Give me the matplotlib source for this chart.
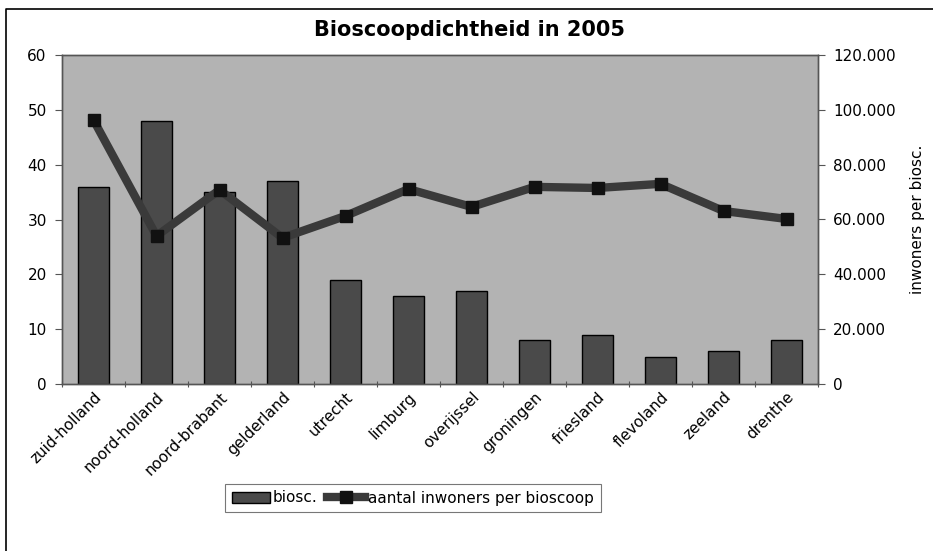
import numpy as np
import matplotlib.pyplot as plt
from matplotlib.lines import Line2D
from matplotlib.ticker import FuncFormatter

# provinces and values
provinces = ['zuid-holland', 'noord-holland', 'noord-brabant', 'gelderland', 'utrecht',
             'limburg', 'overijssel', 'groningen', 'friesland', 'flevoland', 'zeeland', 'drenthe']
biosc = [36, 48, 35, 37, 19, 16, 17, 8, 9, 5, 6, 8]
inwoners = [96300, 54000, 70800, 53300, 61300, 71100, 64600, 71900, 71500, 73000, 63100, 60200]

fig = plt.figure(figsize=(9.33, 5.51), dpi=100)
ax = fig.add_axes([62/933, 1 - 384/551, (818 - 62)/933, (384 - 55)/551])
ax2 = ax.twinx()

x = np.arange(len(provinces))
ax.set_facecolor('#b3b3b3')
bars = ax.bar(x, biosc, width=0.5, color='#4a4a4a', edgecolor='black', linewidth=1, zorder=2)
line, = ax2.plot(x, inwoners, color='#3a3a3a', linewidth=6, marker='s', markersize=9,
                 markerfacecolor='#111111', markeredgecolor='#111111', zorder=3)

ax.set_xlim(-0.5, len(provinces) - 0.5)
ax.set_ylim(0, 60)
ax2.set_ylim(0, 120000)
ax.set_yticks(range(0, 61, 10))
ax2.set_yticks(range(0, 120001, 20000))
ax2.yaxis.set_major_formatter(FuncFormatter(lambda v, p: f'{int(v):,}'.replace(',', '.')))

# category ticks sit between the bars
ax.set_xticks(np.arange(-0.5, len(provinces), 1))
ax.set_xticklabels([])
ax.set_xticks(x, minor=True)
ax.set_xticklabels(provinces, minor=True, rotation=45, ha='right', rotation_mode='anchor', fontsize=11)
ax.tick_params(axis='x', which='minor', length=0, pad=4)
ax.tick_params(axis='x', which='major', length=5, direction='inout', color='#555555')

ax.tick_params(axis='y', labelsize=11, length=5, color='#555555', pad=6)
ax2.tick_params(axis='y', labelsize=11, length=5, color='#555555', pad=6)
ax2.set_ylabel('inwoners per biosc.', fontsize=11, labelpad=10)

for a in (ax, ax2):
    for s in a.spines.values():
        s.set_color('#555555')
        s.set_linewidth(1)

fig.text(470/933, 1 - 30/551, 'Bioscoopdichtheid in 2005', ha='center', va='center',
         fontsize=15, fontweight='bold')

leg = fig.legend([bars, line], ['biosc.', 'aantal inwoners per bioscoop'], loc='center',
                 bbox_to_anchor=(413/933, 1 - 498/551), ncol=2, fontsize=11, frameon=True,
                 fancybox=False, edgecolor='#555555', handlelength=2.5, handletextpad=0.2,
                 columnspacing=0.6, borderpad=0.45)
leg.get_frame().set_linewidth(0.8)

# outer frame: only the top and left edges show in the picture
fig.lines.append(Line2D([6/933, 6/933, 1], [0, 1 - 9/551, 1 - 9/551], transform=fig.transFigure,
                        color='black', linewidth=1.2))

fig.savefig('out.png', dpi=100)
